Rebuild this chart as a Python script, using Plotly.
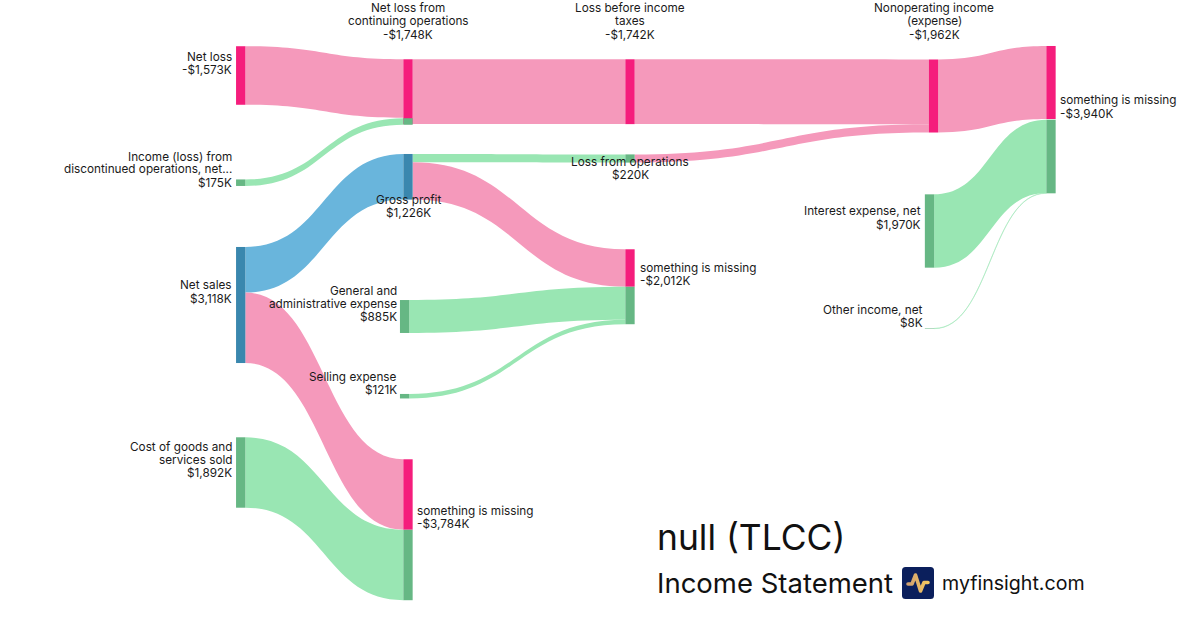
import base64
import plotly.graph_objects as go

W, H = 1200, 630
FONT = "Inter, 'Noto Sans', sans-serif"
PINK, GREEN, BLUE, THIN = "#F599BB", "#99E6B3", "#69B5DC", "rgba(153,230,179,0.5)"
RED_N, GREEN_N, BLUE_N = "#F51D7C", "#66B784", "#3A87AE"

node_names = ["Net loss", "Income (loss) from discontinued", "Net sales", "Cost of goods and services sold",
              "Net loss from continuing operations", "Net loss from continuing operations (income part)",
              "Gross profit", "something is missing A", "something is missing A (income part)",
              "General and administrative expense", "Selling expense", "Loss before income taxes",
              "Loss from operations", "something is missing B", "something is missing B (income part)",
              "Nonoperating income (expense)", "something is missing C", "something is missing C (income part)",
              "Interest expense, net", "Other income, net"]
node_colors = [RED_N, GREEN_N, BLUE_N, GREEN_N, RED_N, GREEN_N, BLUE_N, RED_N, GREEN_N, GREEN_N, GREEN_N,
               RED_N, GREEN_N, RED_N, GREEN_N, RED_N, RED_N, GREEN_N, GREEN_N, GREEN_N]
node_x_px = [240.7, 240.7, 240.7, 240.7, 408, 408, 408, 408, 408, 404.6, 404.6, 630, 630, 630, 630,
             933.5, 1051, 1051, 929.5, 929.5]
node_y_px = [75.5, 182.7, 305, 472.5, 91.7, 121.5, 176.8, 494.5, 565, 316.5, 396.2, 91.7, 158.5, 268,
             305.5, 96, 82.5, 156.5, 231, 328.5]

link_source = [0, 1, 2, 2, 3, 4, 6, 6, 9, 10, 11, 12, 15, 18, 19]
link_target = [4, 5, 6, 7, 8, 11, 12, 13, 14, 14, 15, 15, 16, 17, 17]
link_value = [1573, 175, 1226, 1892, 1892, 1742, 220, 1006, 885, 121, 1742, 220, 1962, 1970, 8]
link_colors = [PINK, GREEN, BLUE, PINK, GREEN, PINK, GREEN, PINK, GREEN, GREEN, PINK, PINK, PINK, GREEN, THIN]

label_lines = [
    (["Net loss", "-$1,573K"], 232, 56.5, "right"),
    (["Income (loss) from", "discontinued operations, net...", "$175K"], 232, 156.5, "right"),
    (["Net sales", "$3,118K"], 232, 285.5, "right"),
    (["Cost of goods and", "services sold", "$1,892K"], 232, 446.5, "right"),
    (["Net loss from", "continuing operations", "-$1,748K"], 408, 8.5, "center"),
    (["Gross profit", "$1,226K"], 408, 199.5, "center"),
    (["something is missing", "-$3,784K"], 417, 510.5, "left"),
    (["General and", "administrative expense", "$885K"], 397, 290.5, "right"),
    (["Selling expense", "$121K"], 397, 376.5, "right"),
    (["Loss before income", "taxes", "-$1,742K"], 630, 8.5, "center"),
    (["Loss from operations", "$220K"], 630, 161.5, "center"),
    (["something is missing", "-$2,012K"], 640, 267.5, "left"),
    (["Nonoperating income", "(expense)", "-$1,962K"], 934, 8.5, "center"),
    (["something is missing", "-$3,940K"], 1060, 100.5, "left"),
    (["Interest expense, net", "$1,970K"], 921, 211.5, "right"),
    (["Other income, net", "$8K"], 923, 309.5, "right"),
]
PAD_X = {"left": -2, "right": 2, "center": 0}

fig = go.Figure(go.Sankey(
    arrangement="fixed",
    domain=dict(x=[0, 1], y=[0, 1]),
    node=dict(
        label=[""] * len(node_names),
        customdata=node_names,
        x=[v / W for v in node_x_px],
        y=[v / H for v in node_y_px],
        color=node_colors,
        pad=38.2,
        thickness=9.3,
        line=dict(width=0),
        hoverinfo="none",
    ),
    link=dict(
        source=link_source,
        target=link_target,
        value=link_value,
        color=link_colors,
        line=dict(width=0),
        hoverinfo="none",
    ),
))

annotations = []
for lines, x, y0, align in label_lines:
    for i, text in enumerate(lines):
        annotations.append(dict(
            text=text, xref="paper", yref="paper", x=(x + PAD_X[align]) / W, y=1 - (y0 + 13 * i) / H,
            xanchor=align, yanchor="middle", showarrow=False, align=align,
            font=dict(family=FONT, size=11.75, color="#1a1a1a"),
        ))
for text, x, y, size in [("null (TLCC)", 655, 537.5, 35.4), ("Income Statement", 655, 583, 27.5), ("myfinsight.com", 940, 583, 19.6)]:
    annotations.append(dict(
        text=text, xref="paper", yref="paper", x=x / W, y=1 - y / H,
        xanchor="left", yanchor="middle", showarrow=False,
        font=dict(family=FONT, size=size, color="#111111"),
    ))

logo_svg = """<svg xmlns='http://www.w3.org/2000/svg' viewBox='0 0 32 32' width='32' height='32'>
<defs><linearGradient id='g' x1='0' x2='1' y1='0' y2='0'><stop offset='0' stop-color='#D0A070'/><stop offset='1' stop-color='#F5C860'/></linearGradient></defs>
<rect width='32' height='32' rx='3.5' fill='#0B1F5C'/>
<path d='M6 17 H10 L13.5 8 L18.5 24 L22 15.5 H26' fill='none' stroke='url(#g)' stroke-width='3.6' stroke-linecap='round' stroke-linejoin='round'/>
</svg>"""
logo_uri = "data:image/svg+xml;base64," + base64.b64encode(logo_svg.encode()).decode()

fig.update_layout(
    width=W, height=H,
    margin=dict(l=0, r=0, t=0, b=0),
    paper_bgcolor="white",
    font=dict(family=FONT, size=12),
    annotations=annotations,
    images=[dict(source=logo_uri, xref="paper", yref="paper", x=902 / W, y=1 - 567 / H,
                 sizex=32 / W, sizey=32 / H, xanchor="left", yanchor="top", layer="above")],
)
fig.write_html("out.html", config={"displayModeBar": False}, post_script="document.body.style.margin='0';")
